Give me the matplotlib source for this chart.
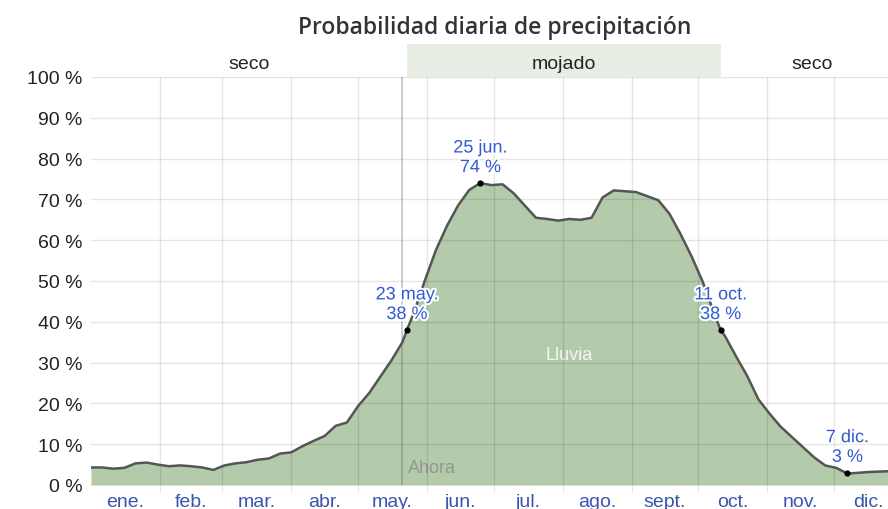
import matplotlib.pyplot as plt
import matplotlib.patheffects as pe
import numpy as np

# Día del año (0 = 1 ene.) y probabilidad diaria de precipitación (%)
dias = [0, 5, 10, 15, 20, 25, 30, 35, 40, 45, 50, 55, 60, 65, 70, 75, 80, 85, 90,
        95, 100, 105, 110, 115, 120, 125, 130, 135, 140, 142, 145, 150, 155, 160,
        165, 170, 175, 180, 185, 190, 195, 200, 205, 210, 215, 220, 225, 230, 235,
        240, 245, 250, 255, 260, 265, 270, 275, 280, 283, 285, 290, 295, 300, 305,
        310, 315, 320, 325, 330, 335, 340, 345, 350, 355, 360, 364]
prob = [4.3, 4.3, 4.0, 4.2, 5.3, 5.5, 5.0, 4.6, 4.8, 4.6, 4.3, 3.7, 4.8, 5.3, 5.6,
        6.2, 6.5, 7.7, 8.0, 9.5, 10.8, 12.0, 14.5, 15.3, 19.3, 22.5, 26.5, 30.5,
        35.0, 38.0, 42.0, 50.0, 57.5, 63.5, 68.5, 72.3, 74.0, 73.5, 73.7, 71.5,
        68.5, 65.5, 65.2, 64.8, 65.2, 65.0, 65.5, 70.5, 72.2, 72.0, 71.8, 70.8,
        69.8, 66.5, 61.5, 56.0, 49.8, 42.3, 38.0, 36.5, 31.5, 26.7, 21.0, 17.5,
        14.3, 11.8, 9.3, 6.8, 4.8, 4.2, 2.8, 3.0, 3.2, 3.3, 3.4, 3.4]

# Puntos destacados
marca_dias = [142, 175, 283, 340]
marca_vals = [38, 74, 38, 3]
marca_txt = ['23 may.\n38 %', '25 jun.\n74 %', '11 oct.\n38 %', '7 dic.\n3 %']

meses = ['ene.', 'feb.', 'mar.', 'abr.', 'may.', 'jun.', 'jul.', 'ago.',
         'sept.', 'oct.', 'nov.', 'dic.']
inicio_mes = [0, 31, 59, 90, 120, 151, 181, 212, 243, 273, 304, 334, 365]

# Estaciones: (inicio, fin, nombre)
estaciones = [(0, 142, 'seco'), (142, 283, 'mojado'), (283, 365, 'seco')]
ahora = 140

W, H = 888, 510
fig = plt.figure(figsize=(W / 100, H / 100), dpi=100)
ax = fig.add_axes([91 / W, 24 / H, (W - 91) / W, 408 / H])
xmax = (W - 91) / 2.2246

ax.fill_between(dias, prob, color='#b3cbaa', lw=0, zorder=1)
ax.plot(dias, prob, color='#555555', lw=1.8, zorder=3)
ax.scatter(marca_dias, marca_vals, s=12, color='black', zorder=4)

halo = [pe.withStroke(linewidth=3, foreground='white')]
for d, v, t in zip(marca_dias, marca_vals, marca_txt):
    ax.annotate(t, (d, v), xytext=(0, 5), textcoords='offset points',
                ha='center', va='bottom', color='#2f5bd3', fontsize=13,
                family='Liberation Sans', linespacing=1.2, path_effects=halo,
                zorder=5)

ax.axvline(ahora, color='#555555', alpha=0.35, lw=1.2, zorder=2)
ax.text(ahora + 2.5, 4.2, 'Ahora', color='#888888', alpha=0.75, fontsize=13,
        family='Liberation Sans', va='center', zorder=2)
ax.text(215, 32, 'Lluvia', color='white', alpha=0.85, fontsize=13,
        family='Liberation Sans', ha='center', va='center', zorder=2)

ax.set_xlim(0, xmax)
ax.set_ylim(0, 100)
ax.set_yticks(np.arange(0, 101, 10))
ax.set_yticklabels([f'{v} %' for v in range(0, 101, 10)])
ax.set_xticks(inicio_mes[1:-1])
ax.set_xticklabels([])
ax.set_xticks([(a + b) / 2 for a, b in zip(inicio_mes[:-1], inicio_mes[1:])], minor=True)
ax.set_xticklabels(meses, minor=True)
ax.tick_params(axis='y', length=0, pad=6, labelsize=14, labelcolor='#222222')
ax.tick_params(axis='x', which='major', length=5, color='#e3e3e3')
ax.tick_params(axis='x', which='minor', length=0, pad=6, labelsize=14,
               labelcolor='#3a55b0')
for lab in ax.get_xticklabels(minor=True) + ax.get_yticklabels():
    lab.set_family('Liberation Sans')
ax.set_axisbelow(False)
ax.grid(True, which='major', color='black', alpha=0.1, lw=1)
for s in ax.spines.values():
    s.set_visible(False)

# Banda de estaciones
band = fig.add_axes([91 / W, 432 / H, (W - 91) / W, 33 / H])
band.set_xlim(0, xmax)
band.set_ylim(0, 1)
for a, b, nombre in estaciones:
    if nombre == 'mojado':
        band.axvspan(a, b, color='#e8eee4', lw=0)
    band.text((a + b) / 2, 0.4, nombre, ha='center', va='center', fontsize=14,
              family='Liberation Sans', color='#222222')
band.axis('off')

fig.text(495 / W, 1 - 28 / H, 'Probabilidad diaria de precipitación',
         ha='center', va='center', fontsize=16.5, family='Open Sans',
         fontweight='semibold', color='#333333')

fig.savefig('out.png', dpi=100)
